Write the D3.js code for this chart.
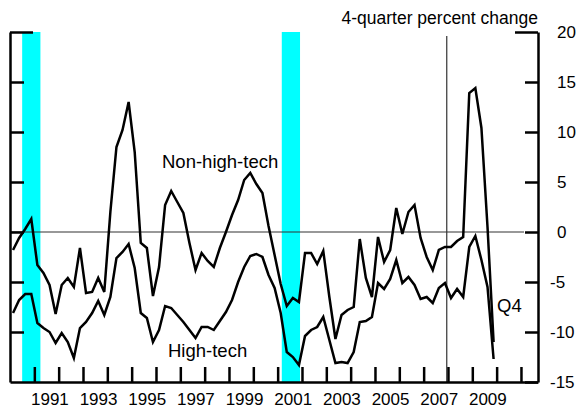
<!DOCTYPE html>
<html>
<head>
<meta charset="utf-8">
<script src="https://cdn.jsdelivr.net/npm/d3@7"></script>
<style>
  body { margin: 0; background: #fff; }
  svg { display: block; font-family: "Liberation Sans", Arial, sans-serif; }
</style>
</head>
<body>
<svg id="chart" width="581" height="411"></svg>
<script>
// quarterly data, 1990Q1 .. 2009Q4 (4-quarter percent change)
const firstYear = 1990;
const quarters = d3.range(80).map(i => `${firstYear + Math.floor(i / 4)}Q${i % 4 + 1}`);

const nonHighTech = [
  -1.8, -0.6, 0.3, 1.3, -3.3, -4.1, -5.3, -8.2, -5.3, -4.6, -5.5, -1.6, -6.1, -6.0,
  -4.6, -6.0, 2.0, 8.5, 10.2, 13.0, 8.0, -1.1, -1.6, -6.4, -3.5, 2.7, 4.1,
  3.0, 1.9, -1.1, -3.8, -2.1, -2.9, -3.5, -1.6, 0.0, 1.7, 3.2, 5.2, 5.9,
  4.8, 3.9, 0.6, -2.3, -5.2, -7.4, -6.6, -7.0, -2.1, -2.1, -3.2, -1.9, -6.5, -10.7,
  -8.3, -7.8, -7.5, -0.7, -4.6, -6.5, -0.5, -3.0, -1.8, 2.4, -0.2, 2.0, 2.7,
  -0.6, -2.5, -3.8, -1.8, -1.5, -1.5, -0.9, -0.5, 13.9, 14.4, 10.4, 0.5, -11.0
];

const highTech = [
  -8.1, -6.8, -6.2, -6.2, -9.1, -9.6, -10.0, -11.1, -10.1, -11.0, -12.6, -9.6, -9.0, -8.1,
  -6.9, -8.3, -6.5, -2.6, -2.0, -1.2, -3.6, -8.1, -8.6, -11.0, -9.8, -7.4, -7.6,
  -8.3, -9.0, -9.8, -10.6, -9.5, -9.5, -9.8, -8.9, -8.0, -6.8, -5.0, -3.5, -2.4,
  -2.2, -2.5, -4.3, -5.6, -8.1, -12.0, -12.5, -13.3, -10.4, -9.8, -9.5, -8.5, -10.8, -13.1,
  -13.0, -13.1, -12.0, -9.0, -8.9, -8.5, -5.1, -5.7, -4.7, -2.8, -5.1, -4.5, -5.3,
  -6.7, -6.5, -7.1, -5.6, -5.1, -6.6, -5.7, -6.5, -1.5, -0.4, -2.8, -5.5, -12.7
];

const recessions = [[1990.5, 1991.25], [2001.17, 2001.92]];
const cyclePeak = 2007.95;
const yTicks = [-15, -10, -5, 0, 5, 10, 15, 20];
const xTicks = d3.range(1991, 2012);
const yearLabels = d3.range(1991, 2010, 2);

// quarter label -> decimal year at the middle of the quarter
const qDate = q => +q.slice(0, 4) + (+q.slice(5) - 0.5) / 4;

const svg = d3.select("#chart");
const x = d3.scaleLinear().domain([1990, 2011.7]).range([10, 538]);
const y = d3.scaleLinear().domain([-15, 20]).range([382, 32]);

// Recession shading
svg.selectAll(".rec")
  .data(recessions)
  .enter()
  .append("rect")
  .attr("x", d => x(d[0]))
  .attr("width", d => x(d[1]) - x(d[0]))
  .attr("y", y(20))
  .attr("height", y(-15) - y(20))
  .attr("fill", "#00ffff");

// zero line and the 2007 peak marker
svg.append("line")
  .attr("x1", x(1990)).attr("x2", 524)
  .attr("y1", y(0)).attr("y2", y(0))
  .attr("stroke", "#333").attr("stroke-width", 1.2);

svg.append("line")
  .attr("x1", x(cyclePeak)).attr("x2", x(cyclePeak))
  .attr("y1", 36).attr("y2", y(-15))
  .attr("stroke", "#333").attr("stroke-width", 1.2);

// Axes
const left = svg.append("g")
  .attr("transform", `translate(${x(1990)},0)`)
  .call(d3.axisRight(y).tickValues(yTicks.filter(v => v > -15)).tickSize(14).tickSizeOuter(0).tickFormat(""));
left.selectAll(".tick line").filter(d => d === 20).attr("x2", 23);

const right = svg.append("g")
  .attr("transform", `translate(${x(2011.7)},0)`)
  .call(d3.axisRight(y).tickValues(yTicks).tickSize(-13).tickSizeOuter(0).tickPadding(19).tickFormat(d => String(d)));
right.selectAll(".tick line").filter(d => d === 20).attr("x2", -23);
right.selectAll(".tick text").attr("dx", d => d < 0 ? -7 : 0);

const bottom = svg.append("g")
  .attr("transform", `translate(0,${y(-15)})`)
  .call(d3.axisTop(x).tickValues(xTicks).tickSize(15).tickSizeOuter(0).tickFormat(""));

svg.selectAll(".domain, .tick line")
  .attr("stroke", "#000")
  .attr("stroke-width", 2.5);
svg.selectAll(".tick text")
  .attr("fill", "#000")
  .style("font-size", "17px")
  .style("font-family", "Liberation Sans, Arial, sans-serif");

svg.selectAll(".year")
  .data(yearLabels)
  .enter()
  .append("text")
  .attr("class", "year")
  .attr("x", d => x(d + 0.64))
  .attr("y", 405)
  .attr("text-anchor", "middle")
  .style("font-size", "17px")
  .text(d => d);

// Series lines
const line = d3.line()
  .x((d, i) => x(qDate(quarters[i])))
  .y(d => y(d));

[nonHighTech, highTech].forEach(s => {
  svg.append("path")
    .datum(s)
    .attr("d", line)
    .attr("fill", "none")
    .attr("stroke", "#000")
    .attr("stroke-width", 2.5);
});

// Labels
const labels = [
  { text: "Non-high-tech", x: 162, y: 168 },
  { text: "High-tech", x: 168, y: 357 },
  { text: "Q4", x: 497, y: 312 }
];
svg.selectAll(".lbl")
  .data(labels)
  .enter()
  .append("text")
  .attr("x", d => d.x)
  .attr("y", d => d.y)
  .style("font-size", "18.5px")
  .text(d => d.text);

svg.append("text")
  .attr("x", 538)
  .attr("y", 24)
  .attr("text-anchor", "end")
  .style("font-size", "17.5px")
  .text("4-quarter percent change");
</script>
</body>
</html>
